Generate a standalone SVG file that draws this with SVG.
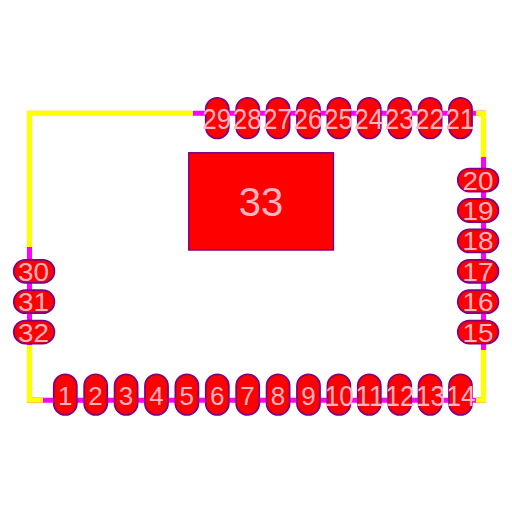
<svg xmlns="http://www.w3.org/2000/svg" width="512" height="512" viewBox="0 0 512 512">
<style>
.o{fill:none;stroke:#ffc0cb;stroke-width:6;opacity:.45}
.m{fill:none;stroke:#ff00ff;stroke-width:5}
.y{fill:none;stroke:#ffff00;stroke-width:5}
.p{fill:#ff0000;stroke:#800080;stroke-width:1.8}
text{font-family:"Liberation Sans",Arial,sans-serif;fill:#ffb4c0;text-anchor:middle}
.s{font-size:26px}
.t{font-size:29px}
.l{font-size:40px}
</style>
<rect width="512" height="512" fill="#fff"/>
<g id="connectors">
<path class="o" d="M193 113.200H29.500V247M29.500 345V400.300H43M476 400.300H483.500V350M483.500 157V113.200H476"/>
<path class="m" d="M193 113.200H483.500V400.300H29.500V113.200"/>
<path class="y" d="M193 113.200H29.500V247M29.500 345V400.300H43M476 400.300H483.500V350M483.500 157V113.200H476"/>
</g>
<g id="pad33"><rect class="p" x="188.800" y="152.800" width="144.600" height="97.200" style="stroke-width:1.5"/><text class="l" x="261" y="216">33</text></g>
<g id="pad1"><rect class="p" x="53.800" y="374.300" width="23" height="40.600" rx="11.500"/><text class="s" x="65.200" y="404.500">1</text></g>
<g id="pad2"><rect class="p" x="84.200" y="374.300" width="23" height="40.600" rx="11.500"/><text class="s" x="95.600" y="404.500">2</text></g>
<g id="pad3"><rect class="p" x="114.600" y="374.300" width="23" height="40.600" rx="11.500"/><text class="s" x="126" y="404.500">3</text></g>
<g id="pad4"><rect class="p" x="145" y="374.300" width="23" height="40.600" rx="11.500"/><text class="s" x="156.400" y="404.500">4</text></g>
<g id="pad5"><rect class="p" x="175.400" y="374.300" width="23" height="40.600" rx="11.500"/><text class="s" x="186.800" y="404.500">5</text></g>
<g id="pad6"><rect class="p" x="205.800" y="374.300" width="23" height="40.600" rx="11.500"/><text class="s" x="217.200" y="404.500">6</text></g>
<g id="pad7"><rect class="p" x="236.200" y="374.300" width="23" height="40.600" rx="11.500"/><text class="s" x="247.600" y="404.500">7</text></g>
<g id="pad8"><rect class="p" x="266.600" y="374.300" width="23" height="40.600" rx="11.500"/><text class="s" x="278" y="404.500">8</text></g>
<g id="pad9"><rect class="p" x="297" y="374.300" width="23" height="40.600" rx="11.500"/><text class="s" x="308.400" y="404.500">9</text></g>
<g id="pad10"><rect class="p" x="327.400" y="374.300" width="23" height="40.600" rx="11.500"/><text class="t" x="339.300" y="405.500" textLength="29" lengthAdjust="spacingAndGlyphs">10</text></g>
<g id="pad11"><rect class="p" x="357.800" y="374.300" width="23" height="40.600" rx="11.500"/><text class="t" x="369.700" y="405.500" textLength="29" lengthAdjust="spacingAndGlyphs">11</text></g>
<g id="pad12"><rect class="p" x="388.200" y="374.300" width="23" height="40.600" rx="11.500"/><text class="t" x="400.100" y="405.500" textLength="29" lengthAdjust="spacingAndGlyphs">12</text></g>
<g id="pad13"><rect class="p" x="418.600" y="374.300" width="23" height="40.600" rx="11.500"/><text class="t" x="430.500" y="405.500" textLength="29" lengthAdjust="spacingAndGlyphs">13</text></g>
<g id="pad14"><rect class="p" x="449" y="374.300" width="23" height="40.600" rx="11.500"/><text class="t" x="460.900" y="405.500" textLength="29" lengthAdjust="spacingAndGlyphs">14</text></g>
<g id="pad15"><rect class="p" x="457.800" y="320.600" width="40.600" height="23" rx="11.500"/><text class="s" x="478" y="341.500" textLength="31" lengthAdjust="spacingAndGlyphs">15</text></g>
<g id="pad16"><rect class="p" x="457.800" y="290.200" width="40.600" height="23" rx="11.500"/><text class="s" x="478" y="311.100" textLength="31" lengthAdjust="spacingAndGlyphs">16</text></g>
<g id="pad17"><rect class="p" x="457.800" y="259.800" width="40.600" height="23" rx="11.500"/><text class="s" x="478" y="280.700" textLength="31" lengthAdjust="spacingAndGlyphs">17</text></g>
<g id="pad18"><rect class="p" x="457.800" y="229.400" width="40.600" height="23" rx="11.500"/><text class="s" x="478" y="250.300" textLength="31" lengthAdjust="spacingAndGlyphs">18</text></g>
<g id="pad19"><rect class="p" x="457.800" y="199" width="40.600" height="23" rx="11.500"/><text class="s" x="478" y="219.900" textLength="31" lengthAdjust="spacingAndGlyphs">19</text></g>
<g id="pad20"><rect class="p" x="457.800" y="168.600" width="40.600" height="23" rx="11.500"/><text class="s" x="478" y="189.500" textLength="31" lengthAdjust="spacingAndGlyphs">20</text></g>
<g id="pad21"><rect class="p" x="449" y="97.800" width="23" height="40.600" rx="11.500"/><text class="t" x="460" y="129" textLength="29" lengthAdjust="spacingAndGlyphs">21</text></g>
<g id="pad22"><rect class="p" x="418.600" y="97.800" width="23" height="40.600" rx="11.500"/><text class="t" x="429.600" y="129" textLength="29" lengthAdjust="spacingAndGlyphs">22</text></g>
<g id="pad23"><rect class="p" x="388.200" y="97.800" width="23" height="40.600" rx="11.500"/><text class="t" x="399.200" y="129" textLength="29" lengthAdjust="spacingAndGlyphs">23</text></g>
<g id="pad24"><rect class="p" x="357.800" y="97.800" width="23" height="40.600" rx="11.500"/><text class="t" x="368.800" y="129" textLength="29" lengthAdjust="spacingAndGlyphs">24</text></g>
<g id="pad25"><rect class="p" x="327.400" y="97.800" width="23" height="40.600" rx="11.500"/><text class="t" x="338.400" y="129" textLength="29" lengthAdjust="spacingAndGlyphs">25</text></g>
<g id="pad26"><rect class="p" x="297" y="97.800" width="23" height="40.600" rx="11.500"/><text class="t" x="308" y="129" textLength="29" lengthAdjust="spacingAndGlyphs">26</text></g>
<g id="pad27"><rect class="p" x="266.600" y="97.800" width="23" height="40.600" rx="11.500"/><text class="t" x="277.600" y="129" textLength="29" lengthAdjust="spacingAndGlyphs">27</text></g>
<g id="pad28"><rect class="p" x="236.200" y="97.800" width="23" height="40.600" rx="11.500"/><text class="t" x="247.200" y="129" textLength="29" lengthAdjust="spacingAndGlyphs">28</text></g>
<g id="pad29"><rect class="p" x="205.800" y="97.800" width="23" height="40.600" rx="11.500"/><text class="t" x="216.800" y="129" textLength="29" lengthAdjust="spacingAndGlyphs">29</text></g>
<g id="pad30"><rect class="p" x="13.800" y="259.800" width="40.600" height="23" rx="11.500"/><text class="s" x="33.500" y="280.700" textLength="31" lengthAdjust="spacingAndGlyphs">30</text></g>
<g id="pad31"><rect class="p" x="13.800" y="290.200" width="40.600" height="23" rx="11.500"/><text class="s" x="33.500" y="311.100" textLength="31" lengthAdjust="spacingAndGlyphs">31</text></g>
<g id="pad32"><rect class="p" x="13.800" y="320.600" width="40.600" height="23" rx="11.500"/><text class="s" x="33.500" y="341.500" textLength="31" lengthAdjust="spacingAndGlyphs">32</text></g>
</svg>
